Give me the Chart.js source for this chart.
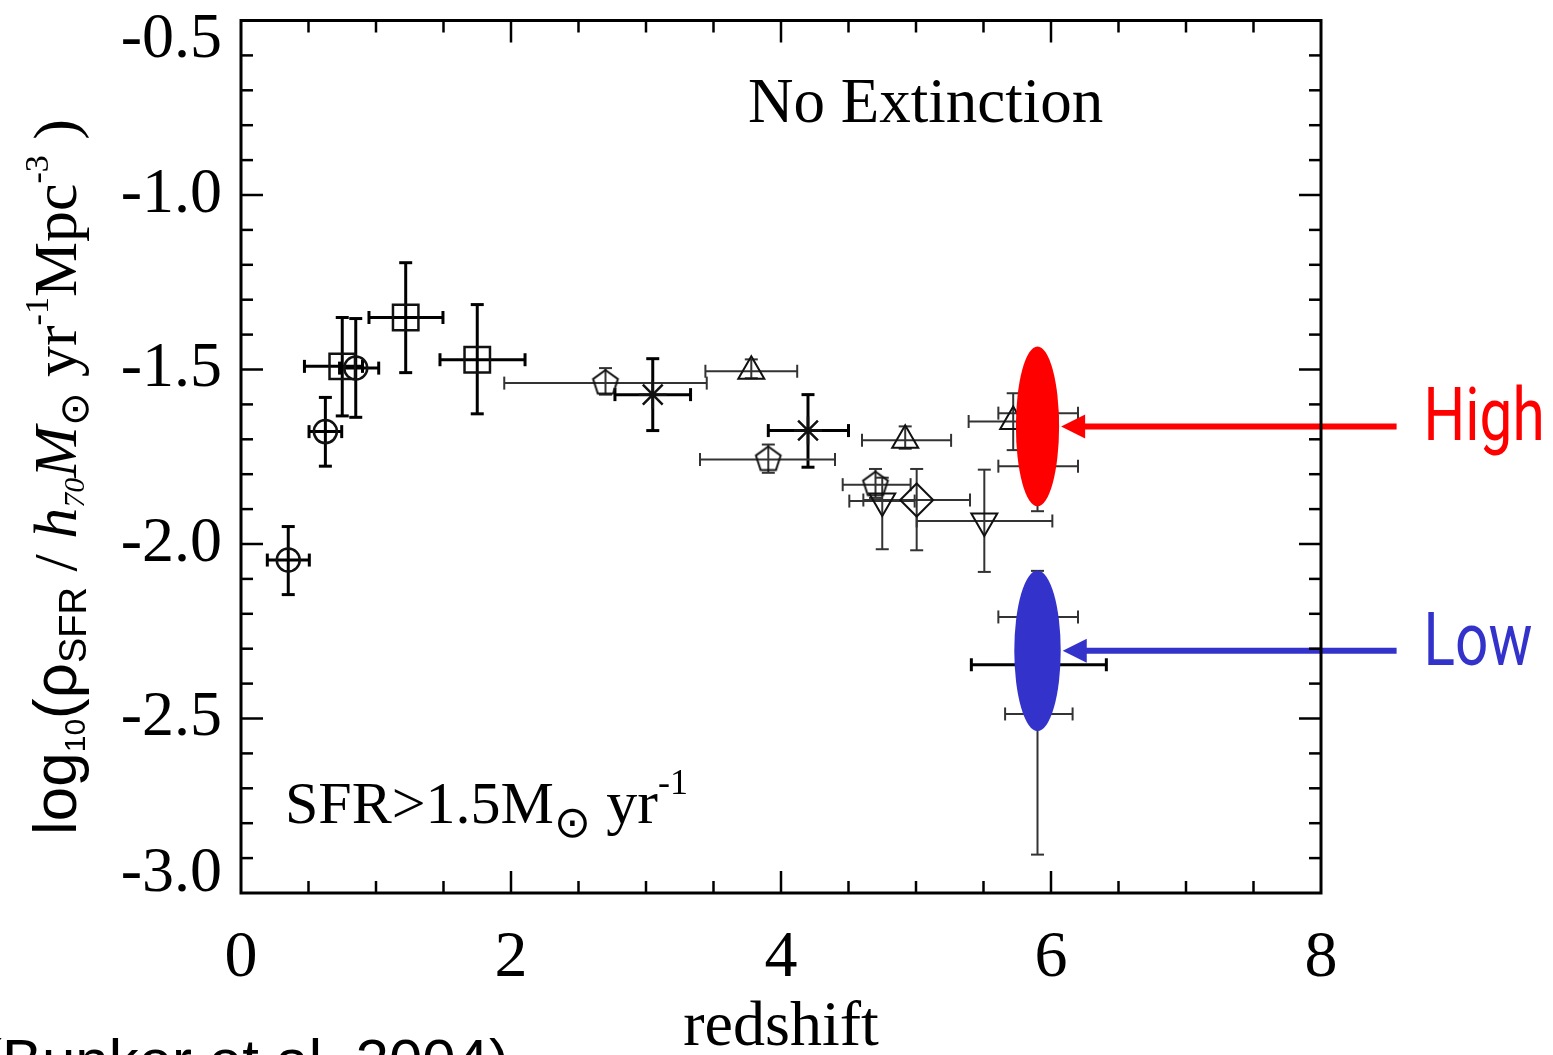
<!DOCTYPE html>
<html>
<head>
<meta charset="utf-8">
<script src="https://cdn.jsdelivr.net/npm/chart.js@4.4.0/dist/chart.umd.min.js"></script>
<style>
  html, body { margin: 0; padding: 0; background: #fff; overflow: hidden; }
  #wrap { width: 1553px; height: 1055px; position: relative; }
</style>
</head>
<body>
<div id="wrap"><canvas id="sfrChart"></canvas></div>
<script>
// points with heavy error bars
const boldZ      = [0.35, 0.625, 0.75, 0.85, 1.22, 1.75, 3.05, 4.20, 5.90];
const boldZLo    = [0.195, 0.504, 0.47, 0.73, 0.948, 1.474, 2.77, 3.906, 5.41];
const boldZHi    = [0.506, 0.746, 0.90, 1.02, 1.496, 2.104, 3.33, 4.50, 6.41];
const boldRho    = [-2.046, -1.678, -1.491, -1.496, -1.351, -1.472, -1.572, -1.675, -2.346];
const boldRhoLo  = [-2.145, -1.777, -1.633, -1.637, -1.509, -1.627, -1.675, -1.780, -2.42];
const boldRhoHi  = [-1.950, -1.580, -1.351, -1.354, -1.194, -1.314, -1.469, -1.572, -2.27];
const boldSymbol = ['circle', 'circle', 'square', 'circle', 'square', 'square', 'asterisk', 'asterisk', 'circle'];

// points with light error bars
const thinZ      = [2.70, 3.78, 3.906, 4.92, 4.70, 4.75, 5.005, 5.506, 5.72, 5.90, 5.90, 5.90, 5.90];
const thinZLo    = [1.95, 3.44, 3.40, 4.60, 4.457, 4.506, 4.61, 5.005, 5.39, 5.61, 5.61, 5.61, 5.66];
const thinZHi    = [3.45, 4.12, 4.40, 5.26, 4.96, 4.99, 5.40, 6.01, 6.05, 6.20, 6.20, 6.20, 6.16];
const thinRho    = [-1.539, -1.505, -1.758, -1.703, -1.83, -1.877, -1.874, -1.934, -1.649, -1.625, -1.777, -2.209, -2.487];
const thinRhoLo  = [-1.572, -1.525, -1.796, -1.727, -1.868, -2.015, -2.018, -2.08, -1.731, -1.66, -1.906, -2.30, -2.89];
const thinRhoHi  = [-1.496, -1.471, -1.715, -1.663, -1.785, -1.81, -1.785, -1.787, -1.568, -1.59, -1.70, -2.077, -2.40];
const thinSymbol = ['pentagon', 'triangle', 'pentagon', 'triangle', 'pentagon', 'triDown', 'diamond', 'triDown', 'triangle', 'square', 'circle', 'circle', 'circle'];

// highlighted regions at z~6
const highlightName    = ['High', 'Low'];
const highlightZ       = [5.9, 5.9];
const highlightRho     = [-1.663, -2.306];
const highlightHalfZ   = [0.16, 0.172];
const highlightHalfRho = [0.229, 0.23];
const arrowTailZ = 8.56;

// axes
const zTicks   = [0, 2, 4, 6, 8];
const rhoTicks = [-3.0, -2.5, -2.0, -1.5, -1.0, -0.5];
const zMinorStep = 0.5;
const rhoMinorStep = 0.1;

const SERIF = '"Liberation Serif", "Times New Roman", serif';
const SANS = '"Liberation Sans", Arial, sans-serif';

function makePentagon(r, lw) {
    const c = document.createElement('canvas');
    const s = Math.ceil(2 * r + 2 * lw + 2);
    c.width = s; c.height = s;
    const g = c.getContext('2d');
    g.beginPath();
    for (let i = 0; i < 5; i++) {
        const a = -Math.PI / 2 + i * 2 * Math.PI / 5;
        const px = s / 2 + r * Math.cos(a), py = s / 2 + r * Math.sin(a);
        if (i === 0) g.moveTo(px, py); else g.lineTo(px, py);
    }
    g.closePath();
    g.lineWidth = lw;
    g.strokeStyle = '#111';
    g.stroke();
    return c;
}
const pentagonMark = makePentagon(13, 2);

const symbolStyle = { circle: 'circle', square: 'rect', asterisk: 'star', triangle: 'triangle', triDown: 'triangle', diamond: 'rectRot' };
const symbolRadius = { circle: 11.5, square: 18, asterisk: 14, triangle: 15, triDown: 15, diamond: 16.5, pentagon: 13 };

function toPoints(z, rho) {
    return z.map((v, i) => ({ x: v, y: rho[i] }));
}

function seriesDataset(label, z, rho, symbols, width) {
    return {
        label: label,
        data: toPoints(z, rho),
        showLine: false,
        pointStyle: c => symbols[c.dataIndex] === 'pentagon' ? pentagonMark : symbolStyle[symbols[c.dataIndex]],
        pointRadius: c => symbolRadius[symbols[c.dataIndex]],
        pointRotation: c => symbols[c.dataIndex] === 'triDown' ? 180 : 0,
        pointBorderWidth: width,
        pointBorderColor: '#111',
        pointBackgroundColor: 'rgba(0,0,0,0)',
    };
}

const errorBars = [
    { z: boldZ, zLo: boldZLo, zHi: boldZHi, rho: boldRho, lo: boldRhoLo, hi: boldRhoHi, width: 3, color: '#000' },
    { z: thinZ, zLo: thinZLo, zHi: thinZHi, rho: thinRho, lo: thinRhoLo, hi: thinRhoHi, width: 2, color: '#333' },
];

function line(ctx, x1, y1, x2, y2) {
    ctx.beginPath();
    ctx.moveTo(x1, y1);
    ctx.lineTo(x2, y2);
    ctx.stroke();
}

// draws a run of text pieces, [text, font, raise]
function richText(ctx, pieces, x, y, squeeze) {
    let total = 0;
    pieces.forEach(p => { ctx.font = p[1]; total += ctx.measureText(p[0]).width; });
    ctx.save();
    ctx.translate(x, y);
    ctx.scale(squeeze || 1, 1);
    let u = 0;
    pieces.forEach(p => {
        ctx.font = p[1];
        ctx.fillText(p[0], u, -(p[2] || 0));
        u += ctx.measureText(p[0]).width;
    });
    ctx.restore();
    return total;
}

const decorPlugin = {
    id: 'decor',
    beforeDatasetsDraw(chart) {
        const ctx = chart.ctx, xs = chart.scales.x, ys = chart.scales.y;
        const cap = 6.5;
        ctx.save();
        errorBars.forEach(set => {
            ctx.strokeStyle = set.color;
            ctx.lineWidth = set.width;
            set.z.forEach((z, i) => {
                const px = xs.getPixelForValue(z), py = ys.getPixelForValue(set.rho[i]);
                const x1 = xs.getPixelForValue(set.zLo[i]), x2 = xs.getPixelForValue(set.zHi[i]);
                const y1 = ys.getPixelForValue(set.lo[i]), y2 = ys.getPixelForValue(set.hi[i]);
                line(ctx, x1, py, x2, py);
                line(ctx, x1, py - cap, x1, py + cap);
                line(ctx, x2, py - cap, x2, py + cap);
                line(ctx, px, y1, px, y2);
                line(ctx, px - cap, y1, px + cap, y1);
                line(ctx, px - cap, y2, px + cap, y2);
            });
        });
        ctx.restore();
    },
    afterDatasetsDraw(chart) {
        const ctx = chart.ctx, xs = chart.scales.x, ys = chart.scales.y;
        const colors = ['#ff0000', '#3333cc'];
        ctx.save();
        highlightZ.forEach((z, i) => {
            const cx = xs.getPixelForValue(z), cy = ys.getPixelForValue(highlightRho[i]);
            const rx = xs.getPixelForValue(z + highlightHalfZ[i]) - cx;
            const ry = cy - ys.getPixelForValue(highlightRho[i] + highlightHalfRho[i]);
            ctx.fillStyle = colors[i];
            ctx.strokeStyle = colors[i];
            ctx.beginPath();
            ctx.ellipse(cx, cy, rx, ry, 0, 0, Math.PI * 2);
            ctx.fill();
            // arrow pointing back to the ellipse
            const tip = cx + rx + 2, tail = xs.getPixelForValue(arrowTailZ);
            ctx.lineWidth = 6;
            line(ctx, tip + 20, cy, tail, cy);
            ctx.beginPath();
            ctx.moveTo(tip, cy);
            ctx.lineTo(tip + 24, cy - 12);
            ctx.lineTo(tip + 24, cy + 12);
            ctx.closePath();
            ctx.fill();
            ctx.save();
            ctx.translate(tail + 27, cy + 14);
            ctx.scale(0.78, 1);
            ctx.font = '75px Roboto, "DejaVu Sans", sans-serif';
            ctx.textAlign = 'left';
            ctx.textBaseline = 'alphabetic';
            ctx.fillText(highlightName[i], 0, 0);
            ctx.restore();
        });
        ctx.restore();
    },
    afterDraw(chart) {
        const ctx = chart.ctx, xs = chart.scales.x, ys = chart.scales.y;
        const a = chart.chartArea;
        ctx.save();
        ctx.strokeStyle = '#000';
        ctx.lineWidth = 3;
        ctx.strokeRect(a.left, a.top, a.right - a.left, a.bottom - a.top);

        ctx.lineWidth = 2.5;
        const zMin = xs.min, zMax = xs.max;
        const nz = Math.round((zMax - zMin) / zMinorStep);
        for (let i = 1; i < nz; i++) {
            const v = zMin + i * zMinorStep;
            const px = xs.getPixelForValue(v);
            const len = zTicks.includes(v) ? 22 : 12;
            line(ctx, px, a.bottom, px, a.bottom - len);
            line(ctx, px, a.top, px, a.top + len);
        }
        const nr = Math.round((ys.max - ys.min) / rhoMinorStep);
        for (let i = 1; i < nr; i++) {
            const v = ys.min + i * rhoMinorStep;
            const py = ys.getPixelForValue(v);
            const len = (i % 5 === 0) ? 22 : 12;
            line(ctx, a.left, py, a.left + len, py);
            line(ctx, a.right, py, a.right - len, py);
        }

        ctx.fillStyle = '#000';
        ctx.textAlign = 'left';
        ctx.textBaseline = 'alphabetic';
        ctx.font = '63px ' + SERIF;
        ctx.fillText('No Extinction', 748, 122);

        richText(ctx, [
            ['SFR>1.5M', '60px ' + SERIF, 0],
            ['\u2299', '44px "DejaVu Sans"', -14],
            [' yr', '62px ' + SERIF, 0],
            ['-1', '36px ' + SERIF, 29],
        ], 285, 823);

        // y axis title, rotated
        ctx.save();
        ctx.translate(76, 835);
        ctx.rotate(-Math.PI / 2);
        const pieces = [
            ['log', '62px ' + SANS, 0],
            ['10', '30px ' + SANS, -9],
            ['(\u03c1', '62px ' + SANS, 0],
            ['SFR', '38px ' + SANS, -10],
            [' / ', '62px ' + SERIF, 0],
            ['h', 'italic 62px ' + SERIF, 0],
            ['70', 'italic 30px ' + SERIF, -8],
            ['M', 'italic 62px ' + SERIF, 0],
            ['\u2299', '40px "DejaVu Sans"', -12],
            [' yr', '62px ' + SERIF, 0],
            ['-1', '34px ' + SERIF, 28],
            ['Mpc', '62px ' + SERIF, 0],
            ['-3', '34px ' + SERIF, 28],
            [' )', '62px ' + SERIF, 0],
        ];
        let total = 0;
        pieces.forEach(p => { ctx.font = p[1]; total += ctx.measureText(p[0]).width; });
        richText(ctx, pieces, 0, 0, Math.min(1, 745 / total));
        ctx.restore();

        // source line, cut by the bottom edge
        ctx.font = '60px ' + SANS;
        ctx.fillText('(Bunker et al. 2004)', -18, 1081);
        ctx.restore();
    }
};

new Chart(document.getElementById('sfrChart'), {
    type: 'scatter',
    data: {
        datasets: [
            seriesDataset('bold', boldZ, boldRho, boldSymbol, 2.5),
            seriesDataset('thin', thinZ, thinRho, thinSymbol, 2),
        ],
    },
    options: {
        responsive: true,
        maintainAspectRatio: false,
        animation: false,
        events: [],
        layout: { padding: { top: 18, right: 232, left: 0, bottom: 0 } },
        plugins: {
            legend: { display: false },
            tooltip: { enabled: false },
        },
        scales: {
            x: {
                type: 'linear',
                min: 0,
                max: 8,
                afterBuildTicks: s => { s.ticks = zTicks.map(v => ({ value: v })); },
                afterFit: s => { s.height = 162; },
                border: { display: false },
                grid: { display: false, drawTicks: false },
                ticks: {
                    color: '#000',
                    padding: 26,
                    maxRotation: 0,
                    font: { size: 66, family: SERIF },
                    callback: v => String(v),
                },
                title: {
                    display: true,
                    text: 'redshift',
                    color: '#000',
                    padding: { top: 0, bottom: -12 },
                    font: { size: 64, family: SERIF },
                },
            },
            y: {
                type: 'linear',
                min: -3.0,
                max: -0.5,
                afterBuildTicks: s => { s.ticks = rhoTicks.map(v => ({ value: v })); },
                afterFit: s => { s.width = 241; s.paddingTop = 0; s.paddingBottom = 0; },
                border: { display: false },
                grid: { display: false, drawTicks: false },
                ticks: {
                    color: '#000',
                    padding: 19,
                    font: { size: 64, family: SERIF, lineHeight: 0.6 },
                    // end labels sit inside the axis span
                    callback: v => {
                        const s = v.toFixed(1);
                        if (v === rhoTicks[rhoTicks.length - 1]) return ['', s];
                        if (v === rhoTicks[0]) return [s, ''];
                        return s;
                    },
                },
            },
        },
    },
    plugins: [decorPlugin],
});
</script>
</body>
</html>
